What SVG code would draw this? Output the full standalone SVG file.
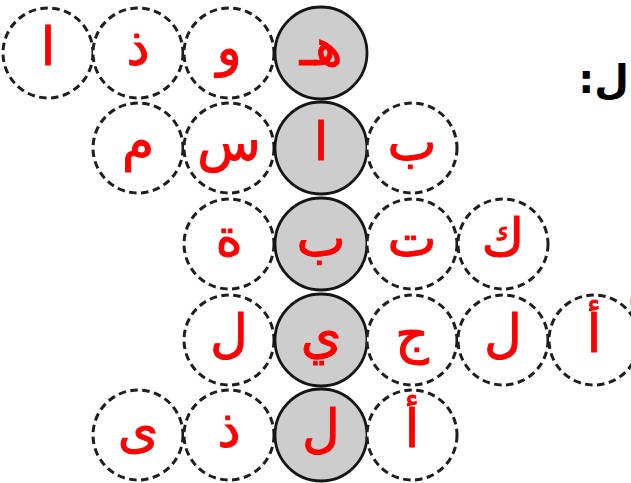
<svg xmlns="http://www.w3.org/2000/svg" width="631" height="483" viewBox="0 0 631 483">
<style>
.d{fill:#ffffff;stroke:#1e1e1e;stroke-width:3;stroke-dasharray:7.5 4.5}
.g{fill:#cdcdcd;stroke:#151515;stroke-width:2.8}
.t{font-family:"DejaVu Sans",sans-serif;font-size:52px;fill:#ff0000;text-anchor:middle;stroke:#ff0000;stroke-width:1}
.k{font-family:"DejaVu Sans",sans-serif;font-size:40px;font-weight:bold;fill:#000000}
</style>
<rect width="631" height="483" fill="#ffffff"/>
<g id="r1c1"><circle class="d" cx="48" cy="53" r="45"/><text class="t" x="48" y="65">ا</text></g>
<g id="r1c2"><circle class="d" cx="138" cy="53" r="45"/><text class="t" x="138" y="65">ذ</text></g>
<g id="r1c3"><circle class="d" cx="229" cy="53" r="45"/><text class="t" x="229" y="65">و</text></g>
<g id="r1c4"><circle class="g" cx="321" cy="53" r="46"/><text class="t" x="321" y="65">هـ</text></g>
<g id="r2c2"><circle class="d" cx="138" cy="148" r="45"/><text class="t" x="138" y="160">م</text></g>
<g id="r2c3"><circle class="d" cx="229" cy="148" r="45"/><text class="t" x="229" y="160">س</text></g>
<g id="r2c4"><circle class="g" cx="321" cy="148" r="46"/><text class="t" x="321" y="160">ا</text></g>
<g id="r2c5"><circle class="d" cx="412" cy="148" r="45"/><text class="t" x="412" y="160">ب</text></g>
<g id="r3c3"><circle class="d" cx="229" cy="244" r="45"/><text class="t" x="229" y="256">ة</text></g>
<g id="r3c4"><circle class="g" cx="321" cy="244" r="46"/><text class="t" x="321" y="256">ب</text></g>
<g id="r3c5"><circle class="d" cx="412" cy="244" r="45"/><text class="t" x="412" y="256">ت</text></g>
<g id="r3c6"><circle class="d" cx="503" cy="244" r="45"/><text class="t" x="503" y="256">ك</text></g>
<g id="r4c3"><circle class="d" cx="229" cy="340" r="45"/><text class="t" x="229" y="352">ل</text></g>
<g id="r4c4"><circle class="g" cx="321" cy="340" r="46"/><text class="t" x="321" y="352">ي</text></g>
<g id="r4c5"><circle class="d" cx="412" cy="340" r="45"/><text class="t" x="412" y="352">ج</text></g>
<g id="r4c6"><circle class="d" cx="503" cy="340" r="45"/><text class="t" x="503" y="352">ل</text></g>
<g id="r4c7"><circle class="d" cx="594" cy="340" r="45"/><text class="t" x="594" y="352">أ</text></g>
<g id="r5c2"><circle class="d" cx="138" cy="435" r="45"/><text class="t" x="138" y="447">ى</text></g>
<g id="r5c3"><circle class="d" cx="229" cy="435" r="45"/><text class="t" x="229" y="447">ذ</text></g>
<g id="r5c4"><circle class="g" cx="321" cy="435" r="46"/><text class="t" x="321" y="447">ل</text></g>
<g id="r5c5"><circle class="d" cx="412" cy="435" r="45"/><text class="t" x="412" y="447">أ</text></g>
<g id="connectors"></g>
<g id="side">
<text class="k" x="629" y="93" text-anchor="end">:ل</text>
<text class="t" x="641" y="310">ة</text>
</g>
</svg>
